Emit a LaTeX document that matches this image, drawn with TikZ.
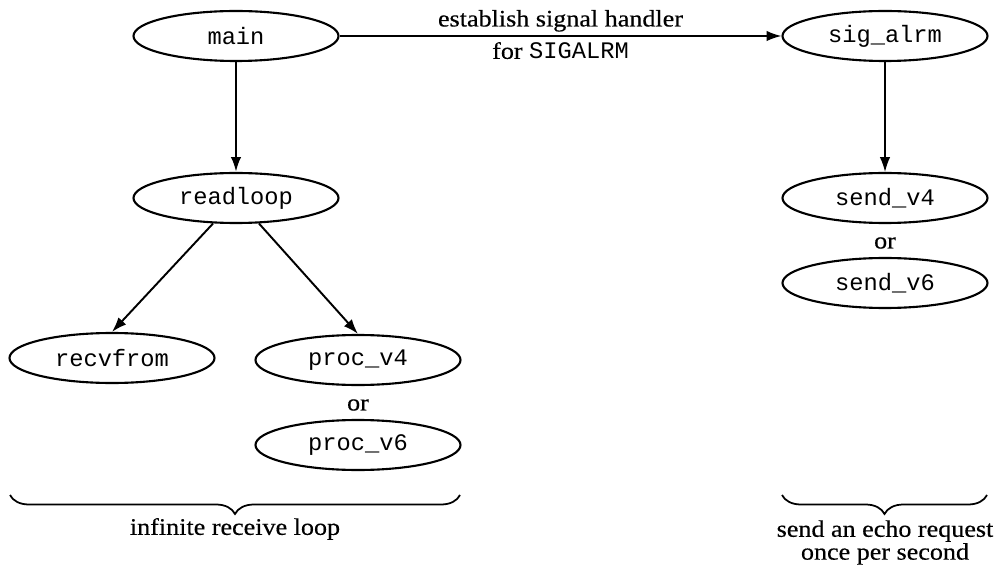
\documentclass[tikz,border=0pt]{standalone}
\usepackage{fontspec}
\setmainfont{Liberation Serif}[FakeStretch=1.1,FakeBold=0.4]
\setmonofont{Liberation Mono}
\usetikzlibrary{arrows.meta,positioning,decorations.pathreplacing,shapes.geometric}

\tikzset{
  func/.style={ellipse,draw,line width=1.2pt,minimum width=4.1cm,minimum height=1cm,
    inner sep=0pt,font=\fontsize{13.5}{15}\selectfont\ttfamily},
  call/.style={-{Latex[length=8.5pt,width=6pt]},line width=1.4pt},
  txt/.style={font=\fontsize{13.5}{13}\selectfont,align=center,inner sep=1pt},
  curly/.style={decorate,decoration={brace,amplitude=0.38cm},line width=1pt},
}

\begin{document}
\begin{tikzpicture}[>=Latex]
\useasboundingbox (0,0) rectangle (20.04,-11.38);
% functions of the receive side
\node[func] (main) at (4.72,-0.72) {main};
\node[func] (readloop) at (4.72,-3.96) {readloop};
\node[func] (recvfrom) at (2.24,-7.16) {recvfrom};
\node[func] (procv4) at (7.16,-7.2) {proc\_v4};
\node[txt] (or1) at (7.16,-8.1) {or};
\node[func] (procv6) at (7.16,-8.9) {proc\_v6};

% signal handler side
\node[func] (sigalrm) at (17.7,-0.72) {sig\_alrm};
\node[func] (sendv4) at (17.7,-3.96) {send\_v4};
\node[txt] (or2) at (17.7,-4.86) {or};
\node[func] (sendv6) at (17.7,-5.66) {send\_v6};

% calls
\draw[call] (main) -- (readloop);
\draw[call,line width=1.1pt] (readloop.228) -- (recvfrom.north);
\draw[call,line width=1.1pt] (readloop.-48) -- (procv4.north);
\draw[call,line width=1pt] (main.east) -- (sigalrm.west)
  node[txt,midway,above=1pt] (estab) {establish signal handler}
  node[txt,midway,below=2pt] (forsig) {for \texttt{SIGALRM}};
\draw[call,line width=0.8pt] (sigalrm) -- (sendv4);

% braces
\coordinate (lb1) at (9.2,-9.9);
\coordinate (lb2) at (0.2,-9.9);
\draw[curly] (lb1) -- (lb2);
\node[txt] (loop) at (4.7,-10.58) {infinite receive loop};
\coordinate (rb1) at (19.74,-9.9);
\coordinate (rb2) at (15.64,-9.9);
\draw[curly] (rb1) -- (rb2);
\node[txt] (echo) at (17.7,-10.85) {send an echo request\\once per second};
\end{tikzpicture}
\end{document}
